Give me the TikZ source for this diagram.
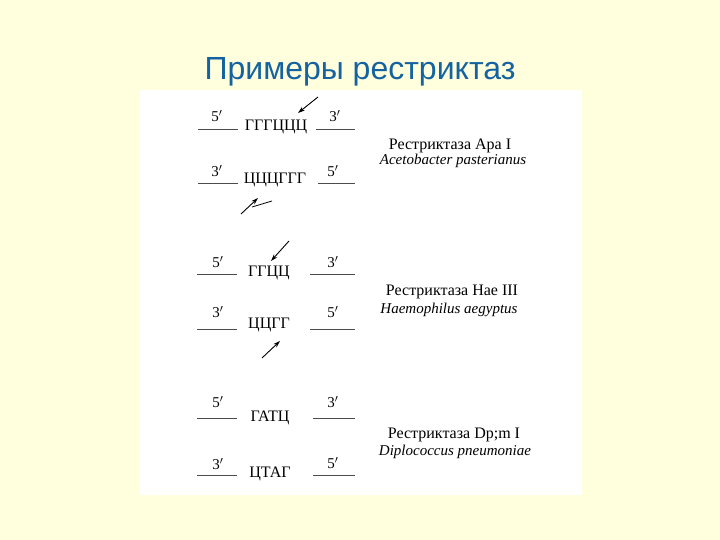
\documentclass[tikz,border=0pt]{standalone}
\usepackage{fontspec}
\setmainfont{Liberation Serif}
\newfontfamily\titlefont{Liberation Sans}
\usetikzlibrary{arrows.meta}
\definecolor{bgyellow}{RGB}{255,255,221}
\definecolor{titleblue}{RGB}{20,98,160}
\begin{document}
\begin{tikzpicture}[x=1pt,y=-1pt,
  seq/.style={font=\fontsize{16}{18}\selectfont, inner sep=0pt},
  prim/.style={font=\fontsize{15}{17}\selectfont, inner sep=0pt},
  strand/.style={draw=black!70, line width=0.7pt},
  cut/.style={-{Stealth[length=7pt,width=4.5pt]}, line width=0.9pt},
  enz/.style={font=\fontsize{16}{18}\selectfont, inner sep=0pt},
  org/.style={font=\fontsize{15}{17}\selectfont\itshape, inner sep=0pt}]
\fill[bgyellow] (0,0) rectangle (720,540);
\useasboundingbox (0,0) rectangle (720,540);
\node[font=\titlefont\fontsize{32}{36}\selectfont, text=titleblue, anchor=base] (title) at (360,80) {Примеры рестриктаз};
\fill[white] (140,90) rectangle (582,495);

% ---- Apa I ----
\node[seq] (s1t) at (276,127) {ГГГЦЦЦ};
\coordinate (l1a) at (198,129); \coordinate (l1b) at (238,129);
\coordinate (r1a) at (316,129); \coordinate (r1b) at (355,129);
\draw[strand] (l1a) -- (l1b);
\draw[strand] (r1a) -- (r1b);
\node[prim] (p1a) at (217,116) {5$'$};
\node[prim] (p1b) at (335,116) {3$'$};
\coordinate (a1t) at (318,97); \coordinate (a1h) at (298,113);
\draw[cut] (a1t) -- (a1h);

\node[seq] (s1b) at (275,180) {ЦЦЦГГГ};
\coordinate (l1c) at (198,183); \coordinate (l1d) at (238,183);
\coordinate (r1c) at (318,183); \coordinate (r1d) at (355,183);
\draw[strand] (l1c) -- (l1d);
\draw[strand] (r1c) -- (r1d);
\node[prim] (p1c) at (217,171) {3$'$};
\node[prim] (p1d) at (333,171) {5$'$};
\coordinate (a1u) at (241,214); \coordinate (a1v) at (258,198);
\draw[cut] (a1u) -- (a1v);
\coordinate (d1a) at (252,207); \coordinate (d1b) at (272,201);
\draw[line width=0.8pt] (d1a) -- (d1b);

\node[enz] (e1) at (450,146) {Рестриктаза Apa I};
\node[org] (o1) at (453,161) {Acetobacter pasterianus};

% ---- Hae III ----
\node[seq] (s2t) at (269,273) {ГГЦЦ};
\coordinate (l2a) at (197,274); \coordinate (l2b) at (237,274);
\coordinate (r2a) at (310,274); \coordinate (r2b) at (355,274);
\draw[strand] (l2a) -- (l2b);
\draw[strand] (r2a) -- (r2b);
\node[prim] (p2a) at (218,262) {5$'$};
\node[prim] (p2b) at (333,262) {3$'$};
\coordinate (a2t) at (289,241); \coordinate (a2h) at (271,261);
\draw[cut] (a2t) -- (a2h);

\node[seq] (s2b) at (269,325) {ЦЦГГ};
\coordinate (l2c) at (197,329); \coordinate (l2d) at (237,329);
\coordinate (r2c) at (310,329); \coordinate (r2d) at (355,329);
\draw[strand] (l2c) -- (l2d);
\draw[strand] (r2c) -- (r2d);
\node[prim] (p2c) at (218,312) {3$'$};
\node[prim] (p2d) at (333,312) {5$'$};
\coordinate (a2u) at (262,358); \coordinate (a2v) at (280,341);
\draw[cut] (a2u) -- (a2v);

\node[enz] (e2) at (452,292) {Рестриктаза Hae III};
\node[org] (o2) at (449,310) {Haemophilus aegyptus};

% ---- Dpn I ----
\node[seq] (s3t) at (270,418) {ГАТЦ};
\coordinate (l3a) at (197,418); \coordinate (l3b) at (237,418);
\coordinate (r3a) at (313,418); \coordinate (r3b) at (355,418);
\draw[strand] (l3a) -- (l3b);
\draw[strand] (r3a) -- (r3b);
\node[prim] (p3a) at (218,402) {5$'$};
\node[prim] (p3b) at (333,402) {3$'$};

\node[seq] (s3b) at (270,474) {ЦТАГ};
\coordinate (l3c) at (197,475); \coordinate (l3d) at (237,475);
\coordinate (r3c) at (313,475); \coordinate (r3d) at (355,475);
\draw[strand] (l3c) -- (l3d);
\draw[strand] (r3c) -- (r3d);
\node[prim] (p3c) at (218,464) {3$'$};
\node[prim] (p3d) at (333,463) {5$'$};

\node[enz] (e3) at (454,435) {Рестриктаза Dp;m I};
\node[org] (o3) at (455,452) {Diplococcus pneumoniae};
\end{tikzpicture}
\end{document}
